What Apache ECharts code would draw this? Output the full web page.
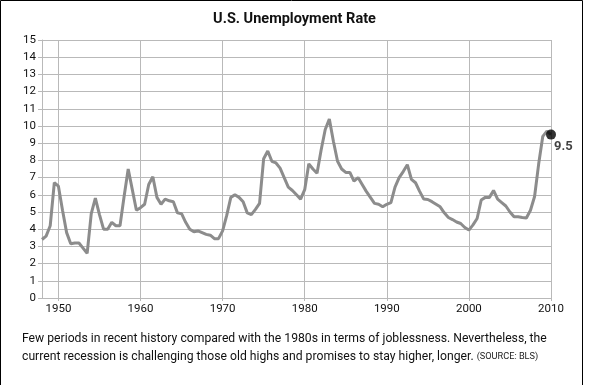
<!DOCTYPE html>
<html>
<head>
<meta charset="utf-8">
<script src="https://cdn.jsdelivr.net/npm/echarts@6/dist/echarts.min.js"></script>
<style>
html,body{margin:0;padding:0;background:#fff;}
#chart{width:589px;height:385px;}
</style>
</head>
<body>
<div id="chart"></div>
<script>
// Semi-annual observation times (decimal years)
const periods = [
1948.0,1948.5,1949.0,1949.5,1950.0,1950.5,1951.0,1951.5,1952.0,1952.5,
1953.0,1953.5,1954.0,1954.5,1955.0,1955.5,1956.0,1956.5,1957.0,1957.5,
1958.0,1958.5,1959.0,1959.5,1960.0,1960.5,1961.0,1961.5,1962.0,1962.5,
1963.0,1963.5,1964.0,1964.5,1965.0,1965.5,1966.0,1966.5,1967.0,1967.5,
1968.0,1968.5,1969.0,1969.5,1970.0,1970.5,1971.0,1971.5,1972.0,1972.5,
1973.0,1973.5,1974.0,1974.5,1975.0,1975.5,1976.0,1976.5,1977.0,1977.5,
1978.0,1978.5,1979.0,1979.5,1980.0,1980.5,1981.0,1981.5,1982.0,1982.5,
1983.0,1983.5,1984.0,1984.5,1985.0,1985.5,1986.0,1986.5,1987.0,1987.5,
1988.0,1988.5,1989.0,1989.5,1990.0,1990.5,1991.0,1991.5,1992.0,1992.5,
1993.0,1993.5,1994.0,1994.5,1995.0,1995.5,1996.0,1996.5,1997.0,1997.5,
1998.0,1998.5,1999.0,1999.5,2000.0,2000.5,2001.0,2001.5,2002.0,2002.5,
2003.0,2003.5,2004.0,2004.5,2005.0,2005.5,2006.0,2006.5,2007.0,2007.5,
2008.0,2008.5,2009.0,2009.5,2010.0
];
// Unemployment rate (%)
const rates = [
3.4,3.6,4.2,6.7,6.5,5.1,3.8,3.15,3.2,3.2,
2.9,2.6,4.9,5.8,4.85,4.0,4.0,4.4,4.2,4.2,
5.9,7.5,6.3,5.1,5.25,5.45,6.6,7.05,5.85,5.45,
5.75,5.65,5.6,4.95,4.9,4.4,4.0,3.85,3.9,3.8,
3.7,3.65,3.45,3.45,3.9,4.8,5.85,6.0,5.85,5.6,
4.95,4.85,5.15,5.5,8.1,8.55,7.95,7.85,7.55,7.0,
6.45,6.25,6.0,5.75,6.3,7.8,7.5,7.25,8.6,9.8,
10.4,9.1,7.95,7.5,7.3,7.3,6.8,7.0,6.6,6.2,
5.85,5.5,5.45,5.3,5.45,5.55,6.45,7.0,7.35,7.75,
6.9,6.7,6.2,5.75,5.73,5.6,5.45,5.3,4.95,4.68,
4.56,4.42,4.33,4.1,3.95,4.25,4.62,5.7,5.85,5.85,
6.25,5.75,5.55,5.35,5.0,4.72,4.72,4.68,4.65,5.1,
5.9,7.8,9.4,9.7,9.5
];
const xTicks = [1950,1960,1970,1980,1990,2000,2010];
const lastLabel = '9.5';
const titleText = 'U.S. Unemployment Rate';
const captionLine1 = 'Few periods in recent history compared with the 1980s in terms of joblessness. Nevertheless, the';
const captionLine2 = 'current recession is challenging those old highs and promises to stay higher, longer. ';
const sourceText = '(SOURCE: BLS)';

const lineData = periods.map((p, i) => [p, rates[i]]);
const lastPoint = lineData[lineData.length - 1];

const chart = echarts.init(document.getElementById('chart'), null, {renderer: 'canvas'});
const gridColor = '#b9b9b9';
const axisFont = 'Roboto';

chart.setOption({
  animation: false,
  backgroundColor: '#ffffff',
  grid: {left: 42, right: 38, top: 40, bottom: 87, containLabel: false},
  xAxis: {
    type: 'value', min: 1948, max: 2010,
    axisLine: {show: true, onZero: false, lineStyle: {color: gridColor, width: 1}},
    axisTick: {show: true, length: 3, customValues: xTicks, lineStyle: {color: gridColor}},
    axisLabel: {customValues: xTicks, formatter: v => String(v), color: '#111',
      fontFamily: axisFont, fontSize: 11.5, margin: 5},
    splitLine: {show: true, lineStyle: {color: gridColor, width: 1}}
  },
  yAxis: {
    type: 'value', min: 0, max: 15, interval: 1,
    axisLine: {show: true, lineStyle: {color: gridColor, width: 1}},
    axisTick: {show: true, length: 4, lineStyle: {color: gridColor}},
    axisLabel: {color: '#111', fontFamily: axisFont, fontSize: 11.5, margin: 6},
    splitLine: {show: true, lineStyle: {color: gridColor, width: 1}}
  },
  series: [
    {
      type: 'line', data: lineData, showSymbol: false, symbol: 'none',
      lineStyle: {color: '#8c8c8c', width: 3}, z: 3
    },
    {
      type: 'scatter', data: [lastPoint], symbol: 'circle', symbolSize: 10,
      itemStyle: {color: '#000'}, z: 4,
      label: {show: true, formatter: lastLabel, position: 'right', offset: [-7, 12],
        fontFamily: axisFont, fontWeight: 'bold', fontSize: 13, color: '#111'}
    }
  ],
  graphic: [
    {type: 'rect', shape: {x: 0.5, y: 0.5, width: 582, height: 400},
      style: {fill: 'none', stroke: '#000', lineWidth: 1}, silent: true, z: 100},
    {type: 'text', left: 'center', top: 12,
      style: {text: titleText, font: 'bold 14.5px Roboto', fill: '#111'}},
    {type: 'text', left: 22, top: 333,
      style: {text: captionLine1, font: '12.2px Roboto', fill: '#111'}},
    {type: 'text', left: 22, top: 351,
      style: {text: captionLine2 + '{s|' + sourceText + '}', font: '12.2px Roboto', fill: '#111',
        rich: {s: {fontSize: 9.2, fontFamily: 'Roboto', fill: '#222'}}}}
  ]
});
</script>
</body>
</html>
